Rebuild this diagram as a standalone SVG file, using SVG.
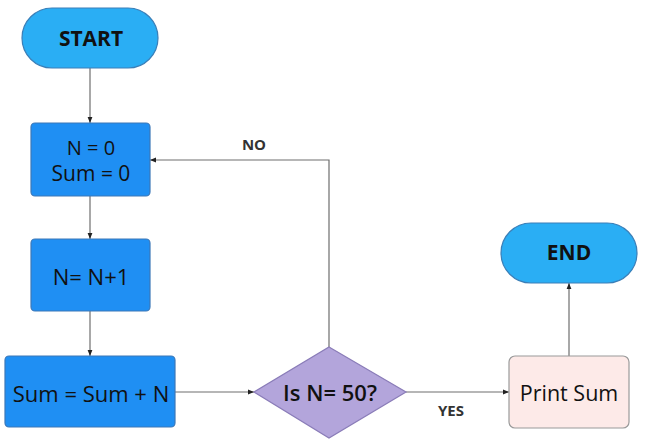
<svg xmlns="http://www.w3.org/2000/svg" width="649" height="445" viewBox="0 0 649 445">
<style>
.term{fill:#2aaef4;stroke:#3a7fb8;stroke-width:1.2}
.proc{fill:#1f8ff3;stroke:#3d78b8;stroke-width:1.2}
.dec{fill:#b3a5db;stroke:#8a7cb8;stroke-width:1.2}
.out{fill:#fdeae8;stroke:#9a9a9a;stroke-width:1.2}
.t{font-family:"Open Sans","Liberation Sans",sans-serif;fill:#111;text-anchor:middle;dominant-baseline:central}
.b{font-weight:bold}
.lbl{font-family:"Open Sans","Liberation Sans",sans-serif;font-weight:bold;font-size:15px;fill:#333;text-anchor:middle}
.c{fill:none;stroke:#6e6e6e;stroke-width:1.2;marker-end:url(#ah)}
</style>
<defs>
<marker id="ah" viewBox="0 0 10 10" refX="10" refY="5" markerWidth="6" markerHeight="6" markerUnits="userSpaceOnUse" orient="auto">
<path d="M0,1 L10,5 L0,9 z" fill="#222"/>
</marker>
</defs>
<g id="connectors">
<path class="c" d="M90,68 V123"/>
<path class="c" d="M90,196 V239"/>
<path class="c" d="M90,311 V356"/>
<path class="c" d="M175,392 H254"/>
<path class="c" d="M329,347 V160 H150"/>
<path class="c" d="M406,392 H509"/>
<path class="c" d="M569,356 V283"/>
<text class="lbl" x="254" y="150">NO</text>
<text class="lbl" x="451" y="416">YES</text>
</g>
<g id="start">
<rect class="term" x="22" y="8" width="136" height="60" rx="30"/>
<text class="t b" x="91" y="38" font-size="21">START</text>
</g>
<g id="init">
<rect class="proc" x="31" y="123" width="119" height="73" rx="4"/>
<text class="t" x="91" y="147" font-size="20">N = 0</text>
<text class="t" x="91" y="173" font-size="21">Sum = 0</text>
</g>
<g id="inc">
<rect class="proc" x="31" y="239" width="119" height="72" rx="4"/>
<text class="t" x="91" y="276" font-size="22">N= N+1</text>
</g>
<g id="sum">
<rect class="proc" x="5" y="356" width="170" height="71" rx="4"/>
<text class="t" x="91" y="393" font-size="22">Sum = Sum + N</text>
</g>
<g id="check">
<polygon class="dec" points="329,347 406,392 329,438 254,392"/>
<text class="t" x="330" y="392" font-size="22" font-weight="600">Is N= 50?</text>
</g>
<g id="print">
<rect class="out" x="509" y="356" width="120" height="72" rx="6"/>
<text class="t" x="569" y="392" font-size="21.5">Print Sum</text>
</g>
<g id="end">
<rect class="term" x="501" y="223" width="136" height="60" rx="30"/>
<text class="t b" x="569" y="252" font-size="21">END</text>
</g>
</svg>
